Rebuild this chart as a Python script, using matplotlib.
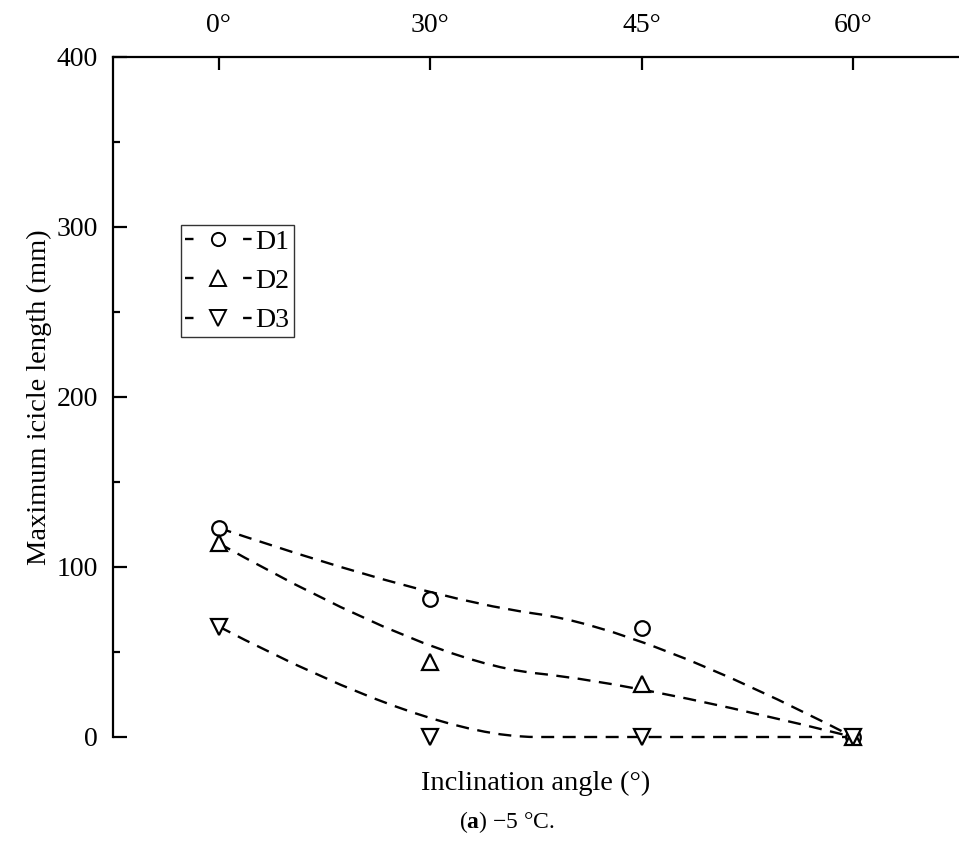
import numpy as np
import matplotlib
matplotlib.use('Agg')
import matplotlib.pyplot as plt
from matplotlib.path import Path
from matplotlib.patches import PathPatch
from matplotlib.lines import Line2D

plt.rcParams['font.family'] = ['Liberation Serif', 'DejaVu Serif']
plt.rcParams['mathtext.fontset'] = 'custom'
plt.rcParams['mathtext.rm'] = 'Liberation Serif'
plt.rcParams['mathtext.bf'] = 'Liberation Serif:bold'

angle_labels = ['0°', '30°', '45°', '60°']
d1 = [123, 81, 64, 0]
d2 = [114, 44, 31, 0]
d3 = [65, 0, 0, 0]
series_names = ['D1', 'D2', 'D3']
series_markers = ['o', '^', 'v']

# categorical x positions (angles are evenly spaced in the figure)
xpos = np.arange(len(angle_labels))

LW = 1.7
DASH = (0, (5.5, 3.6))
LEG_DASH = (0, (3.6, 21.0))


def bspline_path(xs, ys):
    # quadratic B-spline using the data as control points
    pts = np.column_stack([xs, ys]).astype(float)
    verts = [pts[0]]
    codes = [Path.MOVETO]
    n = len(pts)
    for i in range(1, n - 1):
        end = pts[-1] if i == n - 2 else (pts[i] + pts[i + 1]) / 2
        verts += [pts[i], end]
        codes += [Path.CURVE3, Path.CURVE3]
    return Path(verts, codes)


fig = plt.figure(figsize=(9.59, 8.52), dpi=100)
ax = fig.add_axes([113 / 959, 1 - 737 / 852, 1 - 113 / 959, (737 - 57) / 852])

handles = []
for ys, name, mk in zip([d1, d2, d3], series_names, series_markers):
    patch = PathPatch(bspline_path(xpos, ys), facecolor='none', edgecolor='black',
                      lw=LW, linestyle=DASH, clip_on=False)
    ax.add_patch(patch)
    ms = 10.5 if mk == 'o' else 11.5
    ax.plot(xpos, ys, ls='none', marker=mk, ms=ms, mfc='white', mec='black',
            mew=1.6, clip_on=False, zorder=3)
    handles.append(Line2D([], [], color='black', lw=LW, ls=LEG_DASH, marker=mk,
                          ms=9.5 if mk == 'o' else 11, mfc='white', mec='black',
                          mew=1.4, label=name))

ax.set_xlim(-0.5, 3.5)
ax.set_ylim(0, 400)

ax.spines['bottom'].set_visible(False)
ax.spines['right'].set_visible(False)
ax.spines['top'].set_linewidth(1.6)
ax.spines['left'].set_linewidth(1.6)

ax.xaxis.tick_top()
ax.set_xticks(xpos)
ax.set_xticklabels(angle_labels)
ax.tick_params(axis='x', direction='in', length=9.5, width=1.6, pad=14, labelsize=20)

ax.set_yticks([0, 100, 200, 300, 400])
ax.set_yticks([50, 150, 250, 350], minor=True)
ax.tick_params(axis='y', which='major', direction='in', length=10, width=1.6, pad=11, labelsize=20)
ax.tick_params(axis='y', which='minor', direction='in', length=5, width=1.6)
ax.set_ylabel('Maximum icicle length (mm)', fontsize=20.5)
ax.yaxis.set_label_coords(-0.072, 0.5)

leg = ax.legend(handles=handles, loc='upper left', bbox_to_anchor=(0.080, 0.753),
                borderaxespad=0, fontsize=20, frameon=True, fancybox=False,
                handlelength=2.4, handletextpad=0.15, labelspacing=0.5,
                borderpad=0.15)
leg.get_frame().set_edgecolor('black')
leg.get_frame().set_linewidth(1.0)

fig.text(536 / 959, 1 - 783 / 852, 'Inclination angle (°)', ha='center', va='center', fontsize=20.5)
fig.text(507 / 959, 1 - 822 / 852, r'($\mathbf{a}$) −5 °C.', ha='center', va='center', fontsize=17)

fig.savefig('out.png', dpi=100, facecolor='white')
